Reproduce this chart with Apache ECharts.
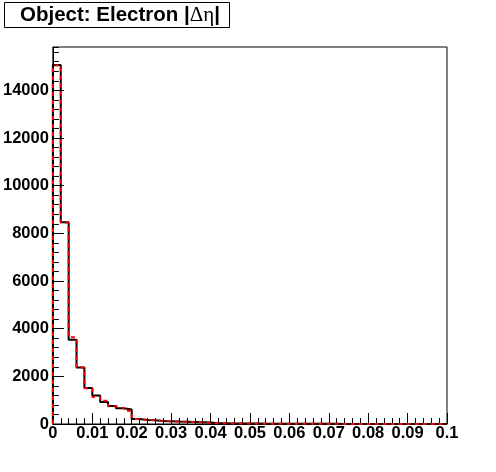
<!DOCTYPE html>
<html><head><meta charset="utf-8">
<script src="https://cdn.jsdelivr.net/npm/echarts@6/dist/echarts.min.js"></script>
<style>html,body{margin:0;padding:0;background:#fff}#c{width:496px;height:472px}</style>
</head><body><div id="c"></div>
<script>
// Histogram: 50 bins of width 0.002 from 0 to 0.1
const binStart = 0;
const binWidth = 0.002;
const xMin = 0, xMax = 0.1, xTickStep = 0.01;
const yMax = 15818, yTickStep = 2000, yMinorStep = 400;
const titleText = 'Object: Electron |';
const titleSymbol = 'Δη';
const blackCounts = [15065, 8460, 3540, 2373, 1509, 1195, 925, 750, 660, 605,
  210, 170, 160, 130, 115, 100, 90, 80, 70, 60,
  35, 30, 25, 22, 20, 18, 15, 12, 12, 10,
  10, 8, 8, 7, 6, 6, 5, 5, 4, 4,
  3, 3, 3, 2, 2, 2, 2, 1, 1, 1];
const redCounts = [15040, 8440, 3645, 2373, 1500, 1130, 975, 745, 665, 560,
  215, 165, 160, 125, 110, 100, 95, 80, 70, 55,
  35, 30, 25, 22, 20, 18, 15, 12, 12, 10,
  10, 8, 8, 7, 6, 6, 5, 5, 4, 4,
  3, 3, 3, 2, 2, 2, 2, 1, 1, 1];

function stepPoints(counts) {
  const pts = [[binStart, 0]];
  counts.forEach((c, i) => pts.push([+(binStart + i * binWidth).toFixed(4), c]));
  const end = +(binStart + counts.length * binWidth).toFixed(4);
  pts.push([end, counts[counts.length - 1]]);
  pts.push([end, 0]);
  return pts;
}

const FONT = 'Liberation Sans';
const chart = echarts.init(document.getElementById('c'), null, {renderer: 'canvas'});
chart.setOption({
  animation: false,
  backgroundColor: '#fff',
  title: {
    text: '{a|' + titleText + '}{b|' + titleSymbol + '}{a||}',
    left: 4, top: 3,
    padding: [2, 10, 2, 16],
    borderColor: '#000', borderWidth: 1, backgroundColor: '#fff',
    textStyle: {
      rich: {
        a: {fontFamily: FONT, fontWeight: 'bold', fontSize: 20.5, color: '#000', lineHeight: 20},
        b: {fontFamily: 'Liberation Serif', fontWeight: 'normal', fontSize: 21, color: '#000', lineHeight: 20}
      }
    }
  },
  grid: {left: 49, right: 49, top: 47, bottom: 48, show: true, borderColor: '#000', borderWidth: 1, backgroundColor: 'transparent'},
  xAxis: {
    type: 'value', min: xMin, max: xMax, interval: xTickStep,
    axisLine: {show: true, lineStyle: {color: '#000', width: 1}},
    axisTick: {inside: true, length: 11, lineStyle: {color: '#000'}},
    minorTick: {show: true, splitNumber: 5, length: 6, lineStyle: {color: '#000'}},
    axisLabel: {color: '#000', fontFamily: FONT, fontWeight: 'bold', fontSize: 16.5, margin: 1,
      formatter: v => String(+v.toFixed(3))},
    splitLine: {show: false}
  },
  yAxis: [{
    type: 'value', min: 0, max: yMax, interval: yTickStep,
    axisLine: {show: true, lineStyle: {color: '#000', width: 1}},
    axisTick: {inside: true, length: 11, lineStyle: {color: '#000'}},
    axisLabel: {showMaxLabel: false, color: '#000', fontFamily: FONT, fontWeight: 'bold', fontSize: 16.5, margin: 4,
      formatter: v => String(v)},
    splitLine: {show: false}
  }, {
    type: 'value', position: 'left', min: 0, max: yMax, interval: yMinorStep,
    axisLine: {show: false},
    axisTick: {inside: true, length: 6, lineStyle: {color: '#000'}},
    axisLabel: {show: false},
    splitLine: {show: false}
  }],
  series: [{
    type: 'line', step: 'end', symbol: 'none', yAxisIndex: 0,
    data: stepPoints(blackCounts),
    lineStyle: {color: '#000', width: 2},
    z: 3
  }, {
    type: 'line', step: 'end', symbol: 'none', yAxisIndex: 0,
    data: stepPoints(redCounts),
    lineStyle: {color: '#ff0000', width: 2, type: [4, 4]},
    z: 4
  }]
});
</script>
</body></html>
